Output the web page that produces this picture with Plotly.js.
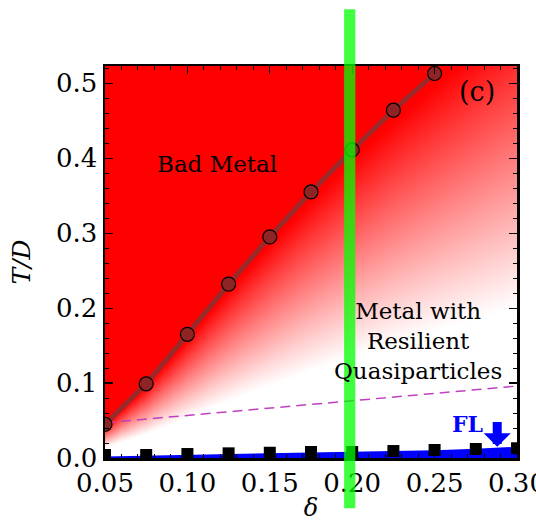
<!DOCTYPE html>
<html>
<head>
<meta charset="utf-8">
<script src="https://cdn.plot.ly/plotly-3.0.1.min.js"></script>
<style>html,body{margin:0;padding:0;background:#fff;}#chart{width:536px;height:522px;}</style>
</head>
<body>
<div id="chart"></div>
<script>
// ---- data ----
const delta = [0.05, 0.075, 0.10, 0.125, 0.15, 0.175, 0.20, 0.225, 0.25, 0.275, 0.30];
const badDelta = [0.05, 0.075, 0.10, 0.125, 0.15, 0.175, 0.20, 0.225, 0.25];
const badT = [0.045, 0.099, 0.165, 0.232, 0.295, 0.355, 0.411, 0.464, 0.513];
const flT = [0.004, 0.004, 0.0053, 0.0062, 0.007, 0.008, 0.008, 0.0093, 0.0107, 0.012, 0.013];
const flBandT = [0.002, 0.003, 0.004, 0.005, 0.006, 0.007, 0.008, 0.009, 0.0105, 0.0125, 0.015];
const dashDelta = [0.05, 0.30];
const dashT = [0.047, 0.096];
const xTickVals = [0.05, 0.10, 0.15, 0.20, 0.25, 0.30];
const yTickVals = [0.0, 0.1, 0.2, 0.3, 0.4, 0.5];
const markDelta = 0.1985;

// ---- background shading derived from the bad-metal crossover line ----
function tCross(d) {
  const n = badDelta.length;
  let i = 0;
  if (d >= badDelta[n - 1]) i = n - 2;
  else { while (i < n - 2 && d > badDelta[i + 1]) i++; }
  const s = (badT[i + 1] - badT[i]) / (badDelta[i + 1] - badDelta[i]);
  return badT[i] + s * (d - badDelta[i]);
}
const gx = [], gy = [], gz = [];
for (let i = 0; i <= 125; i++) gx.push(0.05 + i * 0.002);
for (let j = 0; j <= 132; j++) gy.push(j * 0.004);
for (let j = 0; j < gy.length; j++) {
  const row = [];
  for (let i = 0; i < gx.length; i++) {
    const r = gy[j] / tCross(gx[i]);
    let a = (r - 0.33) / 0.64;
    a = Math.max(0, Math.min(1, a));
    row.push(a);
  }
  gz.push(row);
}

const serif = 'DejaVu Serif, Liberation Serif, serif';

const traces = [
  {type: 'heatmap', x: gx, y: gy, z: gz, zmin: 0, zmax: 1, zsmooth: 'best',
   colorscale: [[0, '#ffffff'], [1, '#ff0000']], showscale: false, hoverinfo: 'skip'},
  {type: 'scatter', mode: 'lines', x: delta, y: flBandT, fill: 'tozeroy',
   fillcolor: '#0000ff', line: {width: 0, color: '#0000ff'}, hoverinfo: 'skip'},
  {type: 'scatter', mode: 'lines', x: dashDelta, y: dashT,
   line: {color: '#bf40bf', width: 1.5, dash: '10px,6px'}},
  {type: 'scatter', mode: 'lines+markers', x: badDelta, y: badT,
   line: {color: '#9a2a2a', width: 5},
   marker: {symbol: 'circle', size: 14, color: '#8e2424', line: {color: '#000', width: 1.2}}},
  {type: 'scatter', mode: 'markers', x: delta, y: flT,
   marker: {symbol: 'square', size: 12, color: '#000'}}
];

const layout = {
  width: 536, height: 522,
  margin: {l: 105, r: 19, t: 66, b: 64},
  paper_bgcolor: '#fff', plot_bgcolor: '#fff',
  showlegend: false,
  font: {family: serif, color: '#000', size: 21},
  xaxis: {
    range: [0.05, 0.30], tickvals: xTickVals, tickformat: '.2f',
    ticks: 'inside', ticklen: 8, tickwidth: 1.2, tickcolor: '#000',
    minor: {dtick: 0.01, ticks: 'inside', ticklen: 4, tickwidth: 1, tickcolor: '#000'},
    showline: true, linewidth: 2.5, linecolor: '#000', mirror: 'allticks',
    showgrid: false, zeroline: false, ticklabeloverflow: 'allow',
    tickfont: {family: serif, size: 26, color: '#000'},
    title: {text: 'δ', font: {family: serif, size: 24, style: 'italic'}, standoff: 8}
  },
  yaxis: {
    range: [0, 0.523], tickvals: yTickVals, tickformat: '.1f',
    ticks: 'inside', ticklen: 8, tickwidth: 1.2, tickcolor: '#000',
    minor: {dtick: 0.02, ticks: 'inside', ticklen: 4, tickwidth: 1, tickcolor: '#000'},
    showline: true, linewidth: 2.5, linecolor: '#000', mirror: 'allticks',
    showgrid: false, zeroline: false, ticklabeloverflow: 'allow',
    tickfont: {family: serif, size: 26, color: '#000'},
    title: {text: 'T/D', font: {family: serif, size: 25, style: 'italic'}, standoff: 18}
  },
  shapes: [
    {type: 'rect', xref: 'x', yref: 'paper', x0: markDelta - 0.0034, x1: markDelta + 0.0034,
     y0: -0.128, y1: 1.145, fillcolor: 'rgba(0,255,0,0.75)', line: {width: 0}, layer: 'above'}
  ],
  annotations: [
    {x: 0.118, y: 0.392, xref: 'x', yref: 'y', text: 'Bad Metal', showarrow: false,
     font: {family: serif, size: 23, color: '#000'}},
    {x: 0.276, y: 0.489, xref: 'x', yref: 'y', text: '(c)', showarrow: false,
     font: {family: serif, size: 27, color: '#000'}},
    {x: 0.240, y: 0.156, xref: 'x', yref: 'y', text: 'Metal with<br>Resilient<br>Quasiparticles',
     showarrow: false, font: {family: serif, size: 23, color: '#000'}},
    {x: 0.270, y: 0.045, xref: 'x', yref: 'y', text: '<b>FL</b>', showarrow: false,
     font: {family: serif, size: 22, color: '#0000ff'}},
    {x: 0.288, y: 0.015, xref: 'x', yref: 'y', ax: 0.288, ay: 0.050, axref: 'x', ayref: 'y',
     text: '', showarrow: true, arrowhead: 1, arrowsize: 0.5, arrowwidth: 9, arrowcolor: '#0000ff'}
  ]
};

Plotly.newPlot('chart', traces, layout, {staticPlot: true, displayModeBar: false});
</script>
</body>
</html>
